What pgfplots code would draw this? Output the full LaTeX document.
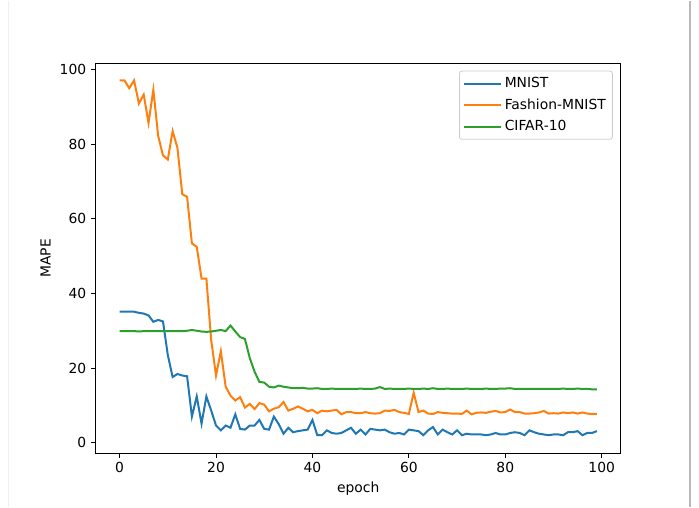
\documentclass[border=0pt]{standalone}
\usepackage{pgfplots}
\pgfplotsset{compat=1.18}
\usepackage{pgfplotstable}
\usepackage{fontspec}
\setmainfont{DejaVu Sans}
\definecolor{tabblue}{HTML}{1F77B4}
\definecolor{taborange}{HTML}{FF7F0E}
\definecolor{tabgreen}{HTML}{2CA02C}
\newcommand\f{\fontsize{10.4pt}{12.5pt}\selectfont}
\pgfplotstableread{
x mnist fashion cifar
0 35.1 97.1 29.9
1 35.1 97.1 29.9
2 35.1 95.0 29.9
3 35.1 97.1 29.9
4 34.8 90.9 29.8
5 34.6 93.3 29.9
6 34.1 85.7 29.9
7 32.4 94.6 29.9
8 32.9 82.2 29.9
9 32.5 77.0 29.9
10 23.5 75.9 29.9
11 17.6 83.5 29.9
12 18.4 79.0 29.9
13 18.0 66.6 29.9
14 17.8 65.9 30.0
15 7.0 53.4 30.2
16 12.4 52.5 30.0
17 5.1 44.0 29.8
18 12.4 44.0 29.7
19 8.6 27.5 29.8
20 4.6 18.0 30.0
21 3.3 24.5 30.2
22 4.6 15.0 29.9
23 4.0 12.6 31.4
24 7.6 11.3 29.8
25 3.7 12.2 28.3
26 3.5 9.4 27.8
27 4.6 10.4 22.7
28 4.6 9.0 19.0
29 6.1 10.6 16.3
30 3.7 10.2 16.1
31 3.5 8.4 15.0
32 7.0 9.1 14.8
33 5.0 9.5 15.3
34 2.4 10.9 15.0
35 4.0 8.6 14.8
36 2.8 9.1 14.6
37 3.1 9.7 14.6
38 3.3 9.1 14.7
39 3.5 8.4 14.5
40 6.1 8.8 14.5
41 2.0 7.9 14.6
42 2.0 8.6 14.4
43 3.3 8.4 14.4
44 2.6 8.6 14.5
45 2.4 8.8 14.4
46 2.6 7.6 14.4
47 3.3 8.2 14.4
48 4.0 8.2 14.4
49 2.4 7.9 14.4
50 3.5 7.9 14.5
51 2.2 8.2 14.4
52 3.7 7.9 14.4
53 3.5 7.8 14.5
54 3.3 7.9 14.9
55 3.5 8.6 14.4
56 2.8 8.5 14.5
57 2.4 8.8 14.4
58 2.6 8.2 14.4
59 2.2 8.0 14.4
60 3.5 7.7 14.5
61 3.3 13.4 14.4
62 3.1 8.2 14.4
63 2.0 8.6 14.5
64 3.3 7.8 14.4
65 4.2 7.7 14.6
66 2.2 8.2 14.4
67 3.5 8.0 14.4
68 2.8 7.9 14.5
69 2.2 7.8 14.4
70 3.3 7.8 14.4
71 2.0 7.7 14.4
72 2.4 8.6 14.5
73 2.2 7.6 14.4
74 2.2 8.0 14.4
75 2.2 8.1 14.4
76 2.0 8.0 14.5
77 2.2 8.3 14.4
78 2.6 8.5 14.4
79 2.2 8.1 14.5
80 2.2 8.2 14.5
81 2.6 8.9 14.6
82 2.8 8.2 14.4
83 2.6 8.2 14.4
84 2.0 7.8 14.4
85 3.3 7.8 14.4
86 2.8 7.9 14.4
87 2.4 8.1 14.4
88 2.2 8.5 14.4
89 2.0 7.8 14.4
90 2.2 7.9 14.4
91 2.2 7.8 14.4
92 2.0 8.1 14.5
93 2.8 7.9 14.4
94 2.8 8.1 14.4
95 3.1 7.8 14.5
96 2.0 8.1 14.4
97 2.6 7.8 14.4
98 2.6 7.7 14.3
99 3.1 7.7 14.3
}\data
\begin{document}
\begin{tikzpicture}
\path (0pt,0pt) rectangle (524.25pt,379.5pt);
\draw[gray!12, line width=0.75pt] (6pt,0pt) -- (6pt,379.5pt);
\draw[gray!55, line width=1pt] (517.5pt,0pt) -- (517.5pt,379.5pt);
\begin{axis}[
  at={(71.8pt,40.3pt)}, anchor=south west,
  scale only axis, width=393.75pt, height=292pt,
  xmin=-4.95, xmax=103.95, ymin=-2.75, ymax=101.6,
  xtick={0,20,40,60,80,100}, ytick={0,20,40,60,80,100},
  tick align=outside, tick pos=left,
  major tick length=3.65pt,
  every tick/.style={black, line width=0.6pt},
  axis line style={line width=0.6pt},
  /pgf/number format/assume math mode=true,
  ticklabel style={font=\f},
  label style={font=\f},
  xlabel={epoch}, ylabel={MAPE},
  legend cell align=left,
  legend style={at={(0.985,0.982)}, anchor=north east, font=\f,
    draw=gray!40, rounded corners=2pt, line width=0.6pt,
    inner xsep=3pt, inner ysep=3pt, row sep=2.7pt},
  legend image code/.code={\draw[#1] (0pt,0pt) -- (23.25pt,0pt);
    \path (0pt,0pt) -- (27.5pt,0pt);},
]
\addplot[tabblue, line width=1.5pt] table[x=x, y=mnist] {\data};
\addlegendentry{MNIST}
\addplot[taborange, line width=1.5pt] table[x=x, y=fashion] {\data};
\addlegendentry{Fashion-MNIST}
\addplot[tabgreen, line width=1.5pt] table[x=x, y=cifar] {\data};
\addlegendentry{CIFAR-10}
\end{axis}
\end{tikzpicture}
\end{document}
